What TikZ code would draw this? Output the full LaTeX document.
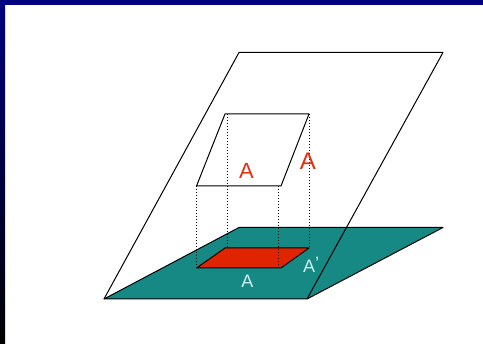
\documentclass[tikz,border=0pt]{standalone}
\usepackage{fontspec}
\setmainfont{Liberation Sans}
\definecolor{navyband}{RGB}{0,0,128}
\definecolor{teal1}{RGB}{23,137,133}
\definecolor{redfill}{RGB}{224,36,0}
\definecolor{redtext}{RGB}{226,48,16}
\definecolor{paletext}{RGB}{204,240,236}
\tikzset{
  edge/.style={draw=black,line width=1pt,line join=round},
  drop/.style={draw=black,line width=0.9pt,dash pattern=on 1.5pt off 1.5pt},
  big/.style={text=redtext,font=\fontsize{22}{22}\selectfont,inner sep=0pt},
  bigger/.style={text=redtext,font=\fontsize{24}{24}\selectfont,inner sep=0pt},
  small/.style={text=paletext,font=\fontsize{18}{18}\selectfont,inner sep=0pt}
}
\begin{document}
\begin{tikzpicture}[x=1pt,y=-1pt]
\useasboundingbox (0,0) rectangle (483,344);
\fill[white] (0,0) rectangle (483,344);
\fill[navyband] (0,0) rectangle (483,5);
\shade[top color=navyband,bottom color=black] (0,5) rectangle (5,344);
% corners
\coordinate (p1) at (239,52.5);
\coordinate (p2) at (443,52.5);
\coordinate (p3) at (307,299);
\coordinate (p4) at (104,299);
\coordinate (g1) at (239,227.5);
\coordinate (g2) at (443,227.5);
\coordinate (u1) at (225,114);
\coordinate (u2) at (309,114);
\coordinate (u3) at (281,186);
\coordinate (u4) at (196.5,186);
\coordinate (r1) at (225,248);
\coordinate (r2) at (309,248);
\coordinate (r3) at (281,268);
\coordinate (r4) at (196.5,268);
\coordinate (d1t) at (227,114);
\coordinate (d1b) at (227,248);
\coordinate (d3t) at (278.5,186);
\coordinate (d3b) at (278.5,268);
% ground plane
\fill[teal1] (p4) -- (g1) -- (g2) -- (p3) -- cycle;
\draw[edge] (p4) -- (g1) -- (g2) -- (p3) -- cycle;
% inclined plane
\draw[edge] (p4) -- (p1) -- (p2) -- (p3);
% projection
\fill[redfill] (r1) -- (r2) -- (r3) -- (r4) -- cycle;
\draw[edge] (r1) -- (r2) -- (r3) -- (r4) -- cycle;
% upper parallelogram
\draw[edge] (u1) -- (u2) -- (u3) -- (u4) -- cycle;
% drop lines
\draw[drop] (d1t) -- (d1b);
\draw[drop] (u2) -- (r2);
\draw[drop] (d3t) -- (d3b);
\draw[drop] (u4) -- (r4);
% labels
\node[big] (a1) at (246.5,170.5) {A};
\node[bigger] (a2) at (308,161.5) {A};
\node[small] (a3) at (247.5,281) {A};
\node[small,anchor=base west] (a4) at (303,273) {A\raisebox{3pt}{'}};
\end{tikzpicture}
\end{document}
